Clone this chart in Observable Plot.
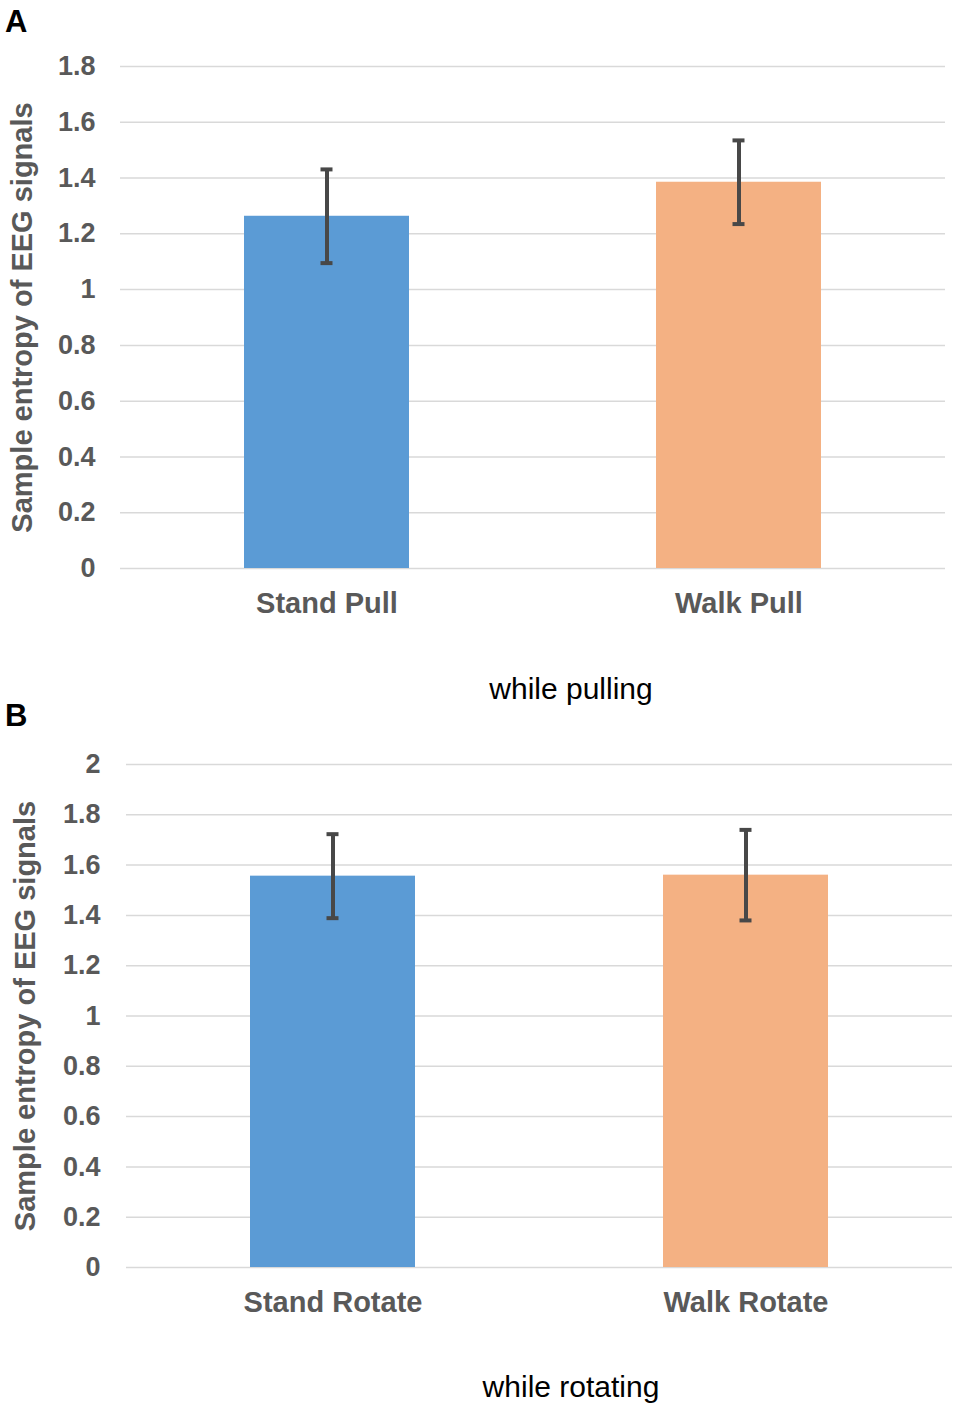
<!DOCTYPE html>
<html>
<head>
<meta charset="utf-8">
<script src="https://cdn.jsdelivr.net/npm/d3@7"></script>
<script src="https://cdn.jsdelivr.net/npm/@observablehq/plot@0.6"></script>
<style>
  body { margin: 0; background: white; }
  #page { position: relative; width: 956px; height: 1406px; font-family: "Liberation Sans", Arial, sans-serif; overflow: hidden; }
  .panel { position: absolute; left: 0; z-index: 0; }
  .letter { position: absolute; font-weight: bold; font-size: 31px; line-height: 31px; color: #000; z-index: 2; }
  .caption { position: absolute; font-size: 30px; line-height: 30px; color: #000; transform: translateX(-50%); white-space: nowrap; z-index: 2; }
</style>
</head>
<body>
<div id="page">
  <div id="panelA" class="panel" style="top:0px;"></div>
  <div id="panelB" class="panel" style="top:700px;"></div>
  <div class="letter" style="left:5px; top:6px;">A</div>
  <div class="caption" style="left:571px; top:674px;">while pulling</div>
  <div class="letter" style="left:5px; top:700px;">B</div>
  <div class="caption" style="left:571px; top:1372px;">while rotating</div>
</div>
<script>
// ---- data ----
const categoriesA = ["Stand Pull", "Walk Pull"];
const valuesA = [1.263, 1.385];
const errorsA = [0.168, 0.15];
const ticksA = [0, 0.2, 0.4, 0.6, 0.8, 1, 1.2, 1.4, 1.6, 1.8];

const categoriesB = ["Stand Rotate", "Walk Rotate"];
const valuesB = [1.556, 1.56];
const errorsB = [0.167, 0.18];
const ticksB = [0, 0.2, 0.4, 0.6, 0.8, 1, 1.2, 1.4, 1.6, 1.8, 2];

const barColors = ["#5b9bd5", "#f4b183"];
const yLabel = "Sample entropy of EEG signals";

function panel(cats, vals, errs, ticks, o) {
  const data = cats.map((c, i) => ({cat: c, val: vals[i], err: errs[i]}));
  const gray = "#595959";
  const errColor = "#484848";
  return Plot.plot({
    width: 956,
    height: 630,
    marginTop: o.mt,
    marginBottom: o.mb,
    marginLeft: o.ml,
    marginRight: o.mr,
    style: {fontFamily: "'Liberation Sans', Arial, sans-serif", background: "transparent", color: gray, overflow: "visible"},
    x: {domain: cats, paddingInner: 0.6, paddingOuter: 0.3, label: null},
    y: {domain: [0, ticks[ticks.length - 1]], label: null},
    color: {domain: cats, range: barColors},
    marks: [
      Plot.gridY(ticks, {stroke: "#d9d9d9", strokeOpacity: 1, strokeWidth: 1.5}),
      Plot.barY(data, {x: "cat", y: "val", fill: "cat"}),
      Plot.ruleX(data, {x: "cat", y1: d => d.val - d.err, y2: d => d.val + d.err, stroke: errColor, strokeWidth: 4}),
      Plot.tickY(data, {x: "cat", y: d => d.val + d.err, stroke: errColor, strokeWidth: 4, insetLeft: 76.5, insetRight: 76.5}),
      Plot.tickY(data, {x: "cat", y: d => d.val - d.err, stroke: errColor, strokeWidth: 4, insetLeft: 76.5, insetRight: 76.5}),
      Plot.axisY(ticks, {tickSize: 0, tickPadding: o.tp, tickFormat: d => String(+d.toFixed(1)), fontSize: 27, fontWeight: "bold", fill: gray, label: null}),
      Plot.axisX({tickSize: 0, tickPadding: 24, fontSize: 29, fontWeight: "bold", fill: gray, label: null}),
      Plot.text([yLabel], {text: d => d, frameAnchor: "left", textAnchor: "middle", lineAnchor: "middle", rotate: -90, dx: o.ldx, fontSize: 29, fontWeight: "bold", fill: gray})
    ]
  });
}

document.getElementById("panelA").append(
  panel(categoriesA, valuesA, errorsA, ticksA, {mt: 66, mb: 62, ml: 120, mr: 11, tp: 25, ldx: -98})
);
document.getElementById("panelB").append(
  panel(categoriesB, valuesB, errorsB, ticksB, {mt: 64, mb: 63, ml: 126, mr: 4, tp: 26, ldx: -101})
);
</script>
</body>
</html>
